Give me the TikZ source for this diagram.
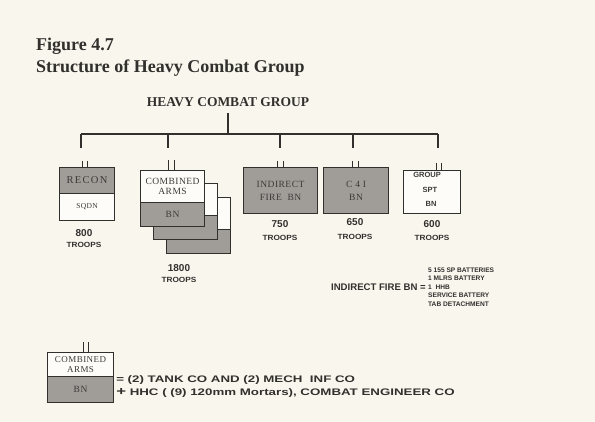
\documentclass[tikz,border=0pt]{standalone}
\usepackage{fontspec}
\setmainfont{Liberation Serif}
\newfontfamily\sansf{Liberation Sans}
\newfontfamily\boxf[LetterSpace=5]{Liberation Serif}
\usetikzlibrary{calc}
\definecolor{bg}{RGB}{249,246,238}
\definecolor{unitgray}{RGB}{160,157,152}
\definecolor{paper}{RGB}{253,252,248}
\definecolor{ink}{RGB}{50,48,45}
\definecolor{boxtext}{RGB}{60,58,55}
\begin{document}
\begin{tikzpicture}[x=1pt,y=-1pt,
  line/.style={draw=ink,line width=1.2pt},
  unit/.style={draw=ink,line width=1.1pt,inner sep=0pt,anchor=north west,
    font=\boxf\fontsize{9.5}{10.5}\selectfont,text=boxtext,align=center},
  gr/.style={unit,fill=unitgray},
  wh/.style={unit,fill=paper},
  num/.style={font=\sansf\bfseries\fontsize{10}{10}\selectfont,text=ink},
  trp/.style={font=\sansf\bfseries\fontsize{7.5}{8}\selectfont,text=ink,xscale=1.1},
  tick/.style={draw=ink,line width=0.9pt},
  lst/.style={font=\sansf\bfseries\fontsize{6.6}{8}\selectfont,text=ink,anchor=west,inner sep=0pt},
  spt/.style={font=\sansf\bfseries\fontsize{7.5}{8}\selectfont,text=boxtext,inner sep=0pt},
  leg/.style={anchor=west,inner sep=0pt,font=\sansf\bfseries\fontsize{9.5}{10}\selectfont,text=ink,xscale=1.4},
]
\fill[bg] (0,0) rectangle (595,422);
\useasboundingbox (0,0) rectangle (595,422);

% titles
\node[anchor=base west,inner sep=0pt,font=\bfseries\fontsize{18}{20}\selectfont,text=ink] (fig) at (36,51) {Figure 4.7};
\node[anchor=base west,inner sep=0pt,font=\bfseries\fontsize{18}{20}\selectfont,text=ink] (sub) at (36,73) {Structure of Heavy Combat Group};

\node[anchor=base,inner sep=0pt,font=\bfseries\fontsize{13.5}{15}\selectfont,text=ink] (hcg) at (228,107) {HEAVY COMBAT GROUP};

% tree
\coordinate (hub) at (228,134);
\coordinate (top) at (228,113);
\coordinate (bl) at (81,134);
\coordinate (br) at (438,134);
\draw[line] (top) -- (hub);
\draw[line] (bl) -- (br);
\foreach \x/\n in {81/1,168/2,280/3,353/4,438/5}{
  \coordinate (d\n) at (\x,148);
  \draw[line] (\x,134) -- (d\n);
}

% unit 1: RECON SQDN
\node[gr,minimum width=55pt,minimum height=26pt,font=\boxf\addfontfeature{LetterSpace=12}\fontsize{10.5}{11}\selectfont] (u1t) at (59,167) {RECON};
\node[wh,minimum width=55pt,minimum height=27pt,font=\boxf\fontsize{7.5}{8}\selectfont] (u1b) at (59,193) {SQDN};
\draw[tick] (82,161) -- (82,167) (87,161) -- (87,167);
\node[num] (n1) at (84,233) {800};
\node[trp] (t1) at (84,245) {TROOPS};

% unit 2: combined arms BN stack
\node[wh,minimum width=64pt,minimum height=32pt] (u2ct) at (166,197) {};
\node[gr,minimum width=64pt,minimum height=24pt] (u2cb) at (166,229) {};
\node[wh,minimum width=64pt,minimum height=32pt] (u2bt) at (153,183) {};
\node[gr,minimum width=64pt,minimum height=24pt] (u2bb) at (153,215) {};
\node[wh,minimum width=64pt,minimum height=32pt] (u2at) at (140,170) {COMBINED\\ARMS};
\node[gr,minimum width=64pt,minimum height=24pt] (u2ab) at (140,202) {BN};
\draw[tick] (168,160) -- (168,170) (174,160) -- (174,170);
\node[num] (n2) at (179,268) {1800};
\node[trp] (t2) at (179,280) {TROOPS};

% unit 3: indirect fire BN
\node[gr,minimum width=74pt,minimum height=46pt,font=\boxf\fontsize{9.5}{13}\selectfont] (u3) at (243,167) {INDIRECT\\FIRE\ \ BN};
\draw[tick] (277,161) -- (277,167) (283,161) -- (283,167);
\node[num] (n3) at (280,224) {750};
\node[trp] (t3) at (280,238) {TROOPS};

% unit 4: C4I BN
\node[gr,minimum width=65pt,minimum height=46pt,font=\boxf\fontsize{9.5}{13}\selectfont] (u4) at (323,167) {C 4 I\\BN};
\draw[tick] (352,161) -- (352,167) (358,161) -- (358,167);
\node[num] (n4) at (355,222) {650};
\node[trp] (t4) at (355,237) {TROOPS};

% unit 5: group spt BN
\node[wh,minimum width=57pt,minimum height=43pt] (u5) at (403,170) {};
\node[spt] (g5) at (427,175) {GROUP};
\node[spt] (s5) at (430,190) {SPT};
\node[spt] (b5) at (431,204) {BN};
\draw[tick] (436,163) -- (436,170) (441,163) -- (441,170);
\node[num] (n5) at (432,224) {600};
\node[trp] (t5) at (432,238) {TROOPS};

% indirect fire breakdown
\node[anchor=east,inner sep=0pt,font=\sansf\bfseries\fontsize{9.6}{10}\selectfont,text=ink] (ifb) at (426,287) {INDIRECT FIRE BN =};
\node[lst] (l1) at (428,270) {5 155 SP BATTERIES};
\node[lst] (l2) at (428,278.5) {1 MLRS BATTERY};
\node[lst] (l3) at (428,287) {1\ \ HHB};
\node[lst] (l4) at (428,295.5) {SERVICE BATTERY};
\node[lst] (l5) at (428,304) {TAB DETACHMENT};

% legend
\node[wh,minimum width=66pt,minimum height=24pt,font=\boxf\fontsize{9}{10.5}\selectfont] (lgt) at (47,352) {COMBINED\\ARMS};
\node[gr,minimum width=66pt,minimum height=26pt] (lgb) at (47,376) {BN};
\draw[tick] (83,342) -- (83,352) (88,342) -- (88,352);
\node[leg] (eq) at (116,380) {= (2) TANK CO AND (2) MECH\ \ INF CO};
\node[leg] (pl) at (116,393) {{\fontsize{12}{10}\selectfont +} HHC ( (9) 120mm Mortars), COMBAT ENGINEER CO};
\end{tikzpicture}
\end{document}
